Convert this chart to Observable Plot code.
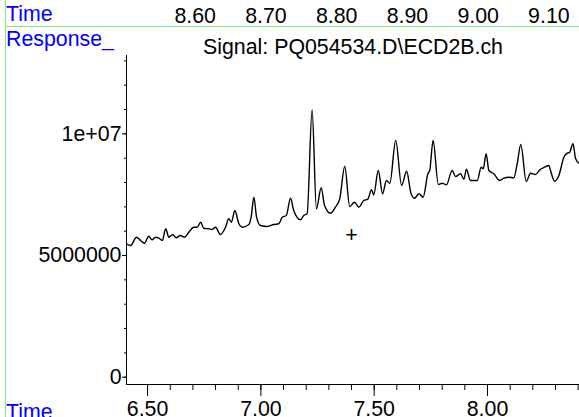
<!DOCTYPE html>
<html><head><meta charset="utf-8">
<script src="https://cdn.jsdelivr.net/npm/d3@7"></script>
<script src="https://cdn.jsdelivr.net/npm/@observablehq/plot@0.6"></script>
<style>
html,body{margin:0;padding:0;background:#fff;}
#chart{position:relative;width:579px;height:417px;overflow:hidden;font-family:"Liberation Sans",Arial,sans-serif;background:#fff;}
.lbl{position:absolute;left:6px;font-size:21.33px;line-height:21.33px;color:#0000ff;white-space:nowrap;}
.gh{position:absolute;left:5px;top:26px;width:574px;height:1px;background:#80e880;}
.gv{position:absolute;left:5px;top:0;width:1px;height:417px;background:#80e880;}
#chart svg{position:absolute;left:0;}
</style></head><body><div id="chart"></div>
<script>
// Retention time (min) and detector response of the trace
const times = [6.407,6.425,6.451,6.469,6.486,6.505,6.520,6.535,6.550,6.565,6.580,6.594,6.611,6.626,6.645,6.663,6.682,6.704,6.719,6.734,6.748,6.770,6.785,6.800,6.821,6.844,6.858,6.870,6.885,6.903,6.918,6.947,6.957,6.969,6.981,6.998,7.028,7.057,7.079,7.094,7.112,7.131,7.145,7.175,7.189,7.204,7.226,7.245,7.266,7.281,7.307,7.329,7.348,7.370,7.392,7.413,7.432,7.454,7.472,7.488,7.498,7.518,7.537,7.554,7.569,7.595,7.621,7.643,7.663,7.678,7.697,7.716,7.737,7.745,7.760,7.783,7.800,7.819,7.844,7.859,7.881,7.896,7.907,7.925,7.955,7.972,7.981,7.994,8.006,8.028,8.054,8.072,8.094,8.116,8.131,8.147,8.171,8.190,8.212,8.231,8.252,8.271,8.278,8.296,8.315,8.337,8.352,8.363,8.377,8.389,8.406];
const responses = [5482000,5412000,5753000,5618000,5507000,5794000,5646000,5753000,5712000,5618000,6098000,5753000,5864000,5729000,5823000,5753000,5959000,6164000,6164000,6370000,6123000,6098000,6070000,6164000,5864000,6164000,6509000,6370000,6850000,6304000,6164000,6275000,6575000,7397000,6575000,6234000,6193000,6275000,6304000,6575000,6645000,7356000,6850000,6468000,6645000,6715000,10988000,6920000,7783000,7056000,6739000,6986000,7331000,8659000,7015000,7191000,6986000,7261000,7315000,7701000,7496000,8494000,7537000,8083000,7972000,9727000,7878000,8465000,7537000,7356000,7537000,7397000,8359000,8494000,9727000,7919000,7972000,7906000,8494000,8248000,8359000,8137000,8548000,8083000,8083000,8630000,8564000,9180000,8494000,8359000,8083000,8178000,8219000,8194000,8770000,9563000,8042000,8383000,8330000,8523000,8630000,8700000,8494000,8054000,8289000,9041000,9205000,9246000,9591000,8975000,8770000];

const markerTime = [7.40];
const markerResponse = [5823000];

const xMajorTicks = [6.5, 7.0, 7.5, 8.0];
const xTickLabels = ["6.50", "7.00", "7.50", "8.00"];
const xMinorTicks = [6.5,6.6,6.7,6.8,6.9,7.0,7.1,7.2,7.3,7.4,7.5,7.6,7.7,7.8,7.9,8.0,8.1,8.2,8.3,8.4];
const yMajorTicks = [0, 5000000, 10000000];
const yTickLabels = ["0", "5000000", "1e+07"];
const yMinorTicks = [0,1e6,2e6,3e6,4e6,5e6,6e6,7e6,8e6,9e6,1e7,1.1e7,1.2e7,1.3e7];
const topTicks = [8.6, 8.7, 8.8, 8.9, 9.0, 9.1];
const topTickLabels = ["8.60", "8.70", "8.80", "8.90", "9.00", "9.10"];

const titleText = "Signal: PQ054534.D\\ECD2B.ch";
const FONT = "'Liberation Sans', Arial, sans-serif";
const FS = 21.33;

const chart = document.getElementById("chart");

const topPlot = Plot.plot({
  width: 579, height: 27,
  marginTop: 24, marginBottom: 0, marginLeft: 0, marginRight: 0,
  style: {fontFamily: FONT, fontSize: FS + "px", background: "transparent", color: "black", overflow: "visible"},
  x: {domain: [8.3248, 9.1433]},
  marks: [
    Plot.axisX(topTicks, {anchor: "top", tickSize: 0, tickPadding: 1.5, label: null,
      tickFormat: d => topTickLabels[topTicks.indexOf(d)], fill: "black"})
  ]
});
topPlot.style.top = "0px";

const main = Plot.plot({
  width: 579, height: 390,
  marginTop: 28, marginBottom: 33, marginLeft: 126, marginRight: 0,
  style: {fontFamily: FONT, fontSize: FS + "px", background: "transparent", color: "black", overflow: "visible"},
  x: {domain: [6.407, 8.406]},
  y: {domain: [-300000, 13220000]},
  marks: [
    Plot.frame({anchor: "left", stroke: "black"}),
    Plot.frame({anchor: "bottom", stroke: "black"}),
    Plot.axisX(xMinorTicks, {tickSize: 6, tickFormat: () => "", label: null}),
    Plot.axisX(xMajorTicks, {tickSize: 12, tickPadding: 4, label: null,
      tickFormat: d => xTickLabels[xMajorTicks.indexOf(d)], fill: "black"}),
    Plot.axisY(yMinorTicks, {tickSize: 2, tickFormat: () => "", label: null}),
    Plot.axisY(yMajorTicks, {tickSize: 4, tickPadding: 1, label: null,
      tickFormat: d => yTickLabels[yMajorTicks.indexOf(d)], fill: "black"}),
    Plot.line(responses, {x: times, y: responses, stroke: "black", strokeWidth: 1.4, curve: "monotone-x", clip: true}),
    Plot.text(markerResponse, {x: markerTime, y: markerResponse, text: () => "+", fontSize: FS, lineAnchor: "middle", fill: "black"}),
    Plot.text([titleText], {frameAnchor: "top", lineAnchor: "bottom", dy: -2, text: d => d, fontSize: FS, fill: "black"})
  ]
});
main.style.top = "27px";

chart.appendChild(topPlot);
chart.appendChild(main);

function addDiv(cls, text, top) {
  const d = document.createElement("div");
  d.className = cls;
  if (text != null) { d.textContent = text; d.style.top = top + "px"; }
  chart.appendChild(d);
}
addDiv("gh"); addDiv("gv");
addDiv("lbl", "Time", 4.4);
addDiv("lbl", "Response_", 29);
addDiv("lbl", "Time", 402);
</script>
</body></html>
